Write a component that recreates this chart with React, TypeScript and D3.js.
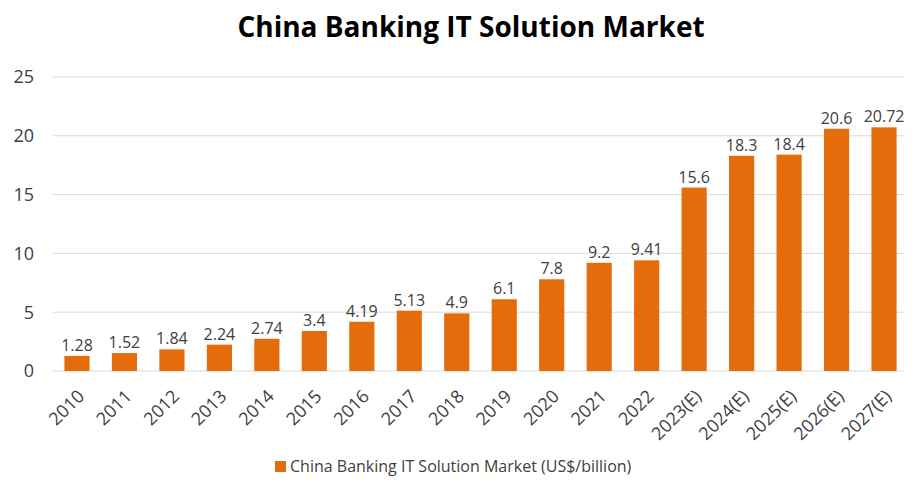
import { useEffect, useRef } from 'react';
import * as d3 from 'd3';

const years = [
  '2010', '2011', '2012', '2013', '2014', '2015', '2016', '2017', '2018',
  '2019', '2020', '2021', '2022', '2023(E)', '2024(E)', '2025(E)', '2026(E)', '2027(E)'
];
const marketValues = [
  1.28, 1.52, 1.84, 2.24, 2.74, 3.4, 4.19, 5.13, 4.9,
  6.1, 7.8, 9.2, 9.41, 15.6, 18.3, 18.4, 20.6, 20.72
];
const yTicks = [0, 5, 10, 15, 20, 25];

const WIDTH = 912;
const HEIGHT = 489;
const BAR_COLOR = '#E46C0A';
const TEXT_COLOR = '#404040';
const FONT = '"Open Sans", "Liberation Sans", sans-serif';

export default function App() {
  const svgRef = useRef<SVGSVGElement>(null);

  useEffect(() => {
    if (!svgRef.current) return;
    const svg = d3.select(svgRef.current);
    svg.selectAll('*').remove();

    const margin = { top: 77, right: 4, bottom: 118, left: 53 };
    const innerW = WIDTH - margin.left - margin.right;
    const innerH = HEIGHT - margin.top - margin.bottom;

    const x = d3.scaleBand<string>()
      .domain(years)
      .range([0, innerW])
      .paddingInner(0.47)
      .paddingOuter(0.24);

    const y = d3.scaleLinear().domain([0, 25]).range([innerH, 0]);

    // Title
    svg.append('text')
      .attr('x', 471)
      .attr('y', 37)
      .attr('text-anchor', 'middle')
      .attr('font-family', FONT)
      .attr('font-weight', 'bold')
      .attr('font-size', 28)
      .attr('fill', '#000')
      .text('China Banking IT Solution Market');

    const g = svg.append('g').attr('transform', `translate(${margin.left},${margin.top})`);

    // Gridlines
    g.selectAll('.grid')
      .data(yTicks)
      .enter()
      .append('line')
      .attr('x1', 0)
      .attr('x2', innerW)
      .attr('y1', d => y(d))
      .attr('y2', d => y(d))
      .attr('stroke', '#d9d9d9')
      .attr('stroke-width', 1);

    // Y tick labels
    g.selectAll('.ytick')
      .data(yTicks)
      .enter()
      .append('text')
      .attr('x', -19)
      .attr('y', d => y(d))
      .attr('dy', '0.35em')
      .attr('text-anchor', 'end')
      .attr('font-family', FONT)
      .attr('font-size', 18)
      .attr('fill', TEXT_COLOR)
      .text(d => d);

    const data = years.map((year, i) => ({ year, value: marketValues[i] }));

    // Bars
    g.selectAll('.bar')
      .data(data)
      .enter()
      .append('rect')
      .attr('x', d => x(d.year)!)
      .attr('y', d => y(d.value))
      .attr('width', x.bandwidth())
      .attr('height', d => innerH - y(d.value))
      .attr('fill', BAR_COLOR);

    // Value labels
    g.selectAll('.val')
      .data(data)
      .enter()
      .append('text')
      .attr('x', d => x(d.year)! + x.bandwidth() / 2)
      .attr('y', d => y(d.value) - 5)
      .attr('text-anchor', 'middle')
      .attr('font-family', FONT)
      .attr('font-size', 16)
      .attr('fill', TEXT_COLOR)
      .text(d => String(d.value));

    // X labels, rotated
    g.selectAll('.xtick')
      .data(years)
      .enter()
      .append('text')
      .attr('transform', d => `translate(${x(d)! + x.bandwidth() / 2 + 4},${innerH + 22}) rotate(-45)`)
      .attr('text-anchor', 'end')
      .attr('dy', '0.35em')
      .attr('font-family', FONT)
      .attr('font-size', 18)
      .attr('fill', TEXT_COLOR)
      .text(d => d);

    // Legend
    const legend = svg.append('g').attr('transform', 'translate(275,466)');
    legend.append('rect')
      .attr('x', 0)
      .attr('y', -5)
      .attr('width', 11)
      .attr('height', 11)
      .attr('fill', BAR_COLOR);
    legend.append('text')
      .attr('x', 15)
      .attr('y', 0)
      .attr('dy', '0.35em')
      .attr('font-family', FONT)
      .attr('font-size', 16)
      .attr('fill', TEXT_COLOR)
      .text('China Banking IT Solution Market (US$/billion)');
  }, []);

  return (
    <div style={{ margin: -8 }}>
      <svg ref={svgRef} width={WIDTH} height={HEIGHT} style={{ display: 'block', background: '#fff' }} />
    </div>
  );
}
